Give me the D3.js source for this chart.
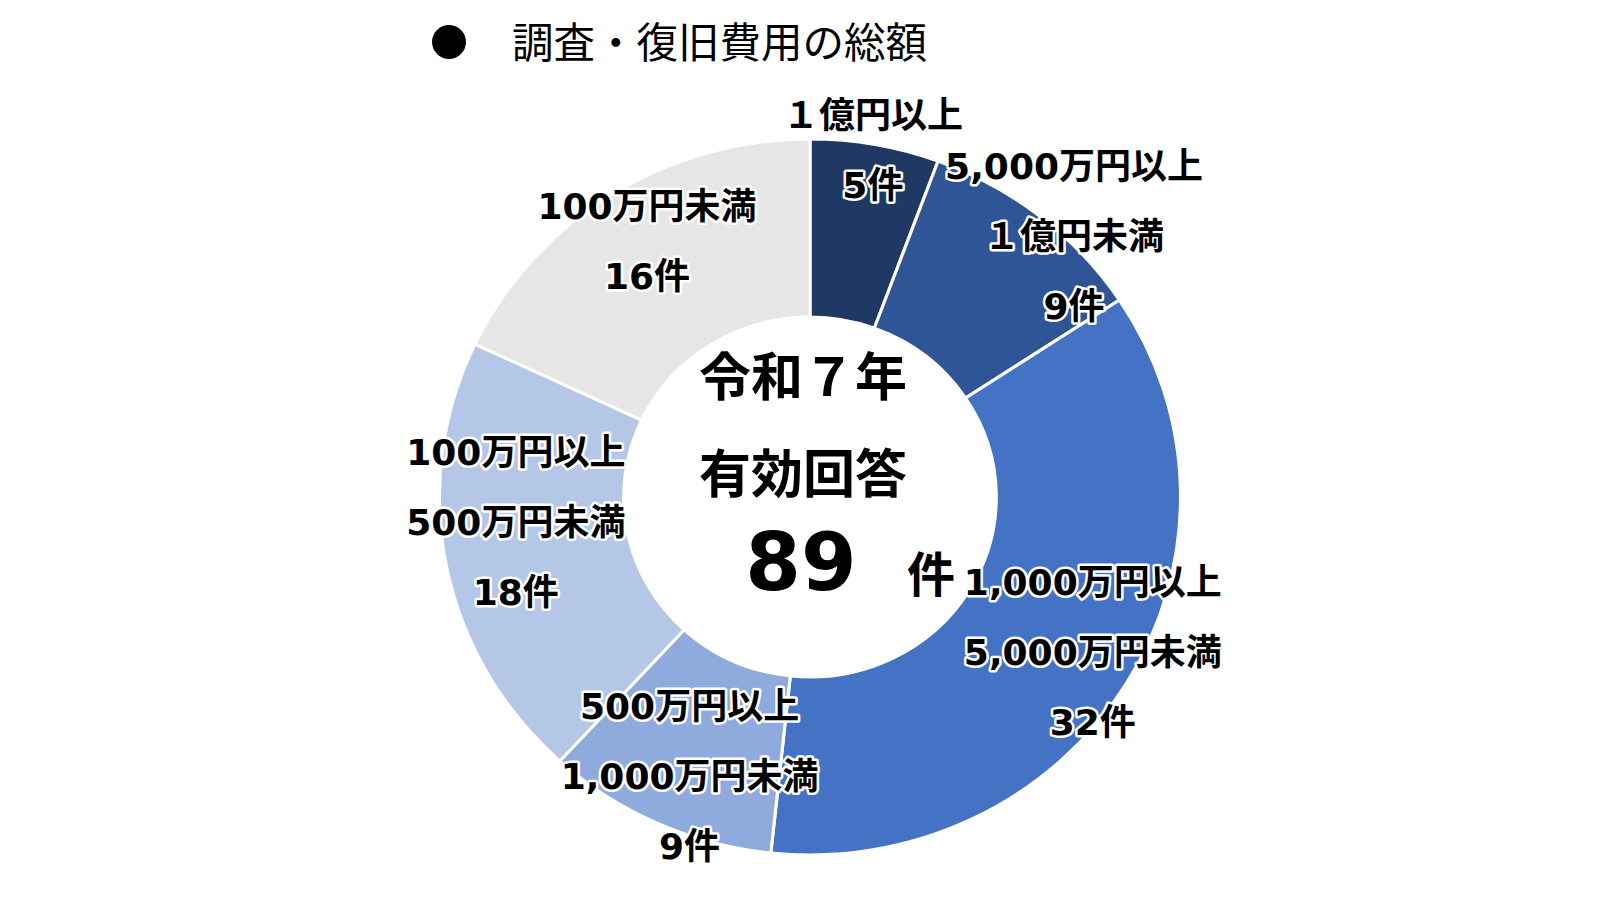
<!DOCTYPE html>
<html>
<head>
<meta charset="utf-8">
<script src="https://cdn.jsdelivr.net/npm/d3@7"></script>
<style>
  html, body { margin: 0; padding: 0; background: #fff; }
  svg { display: block; }
</style>
</head>
<body>
<svg id="chart" width="1600" height="900"></svg>
<script>
"use strict";

// data
var categories = ["１億円以上", "5,000万円以上 １億円未満", "1,000万円以上 5,000万円未満",
                  "500万円以上 1,000万円未満", "100万円以上 500万円未満", "100万円未満"],
    counts = [5, 9, 32, 9, 18, 16],
    colours = ["#203864", "#2F5597", "#4472C4", "#8FAADC", "#B4C7E7", "#E7E6E6"],
    title = "調査・復旧費用の総額",
    centreLines = ["令和７年", "有効回答"],
    unit = "件";

// layout
var cx = 810,
    cy = 497,
    outerR = 358,
    innerR = 180,
    stretchX = 1.035,
    lineGap = 70,
    labelFont = "'DejaVu Sans', 'Noto Sans CJK JP', sans-serif",
    cjkFont = "'Noto Sans CJK JP', sans-serif",
    // manual label moves, as done by hand in the original
    labelNudge = [[14, -82], [91, -50], [45, 16], [-6, 34], [-21, -26], [-14, -28]];

var svg = d3.select("#chart");

var total = d3.sum(counts);

var pie = d3.pie()
    .sort(null)
    .value(function(d) { return d; });

var arc = d3.arc()
    .innerRadius(innerR)
    .outerRadius(outerR);

var arcs = pie(counts);

// title
var head = svg.append("g").attr("class", "title");

head.append("circle")
    .attr("cx", 449)
    .attr("cy", 42)
    .attr("r", 17)
    .attr("fill", "#000");

head.append("text")
    .attr("x", 512)
    .attr("y", 40)
    .attr("dominant-baseline", "central")
    .attr("font-family", cjkFont)
    .attr("font-size", 41.5)
    .attr("font-weight", 400)
    .attr("fill", "#000")
    .text(title);

// donut
var ring = svg.append("g")
    .attr("transform", "translate(" + cx + "," + cy + ") scale(" + stretchX + ",1)");

ring.selectAll("path.slice")
    .data(arcs)
    .enter()
    .append("path")
    .attr("class", "slice")
    .attr("d", arc)
    .attr("fill", function(d, i) { return colours[i]; })
    .attr("stroke", "#fff")
    .attr("stroke-width", 3)
    .attr("stroke-linejoin", "round");

// labels
var labels = svg.append("g").attr("class", "labels");

var groups = labels.selectAll("g.label")
    .data(arcs)
    .enter()
    .append("g")
    .attr("class", "label")
    .attr("transform", function(d, i) {
        var c = arc.centroid(d),
            x = cx + c[0] * stretchX + labelNudge[i][0],
            y = cy + c[1] + labelNudge[i][1];
        return "translate(" + x + "," + y + ")";
    });

groups.selectAll("text")
    .data(function(d, i) {
        var lines = categories[i].split(" ").concat([counts[i] + unit]);
        return lines.map(function(t, j) {
            return { text: t, offset: (j - (lines.length - 1) / 2) * lineGap };
        });
    })
    .enter()
    .append("text")
    .attr("x", 0)
    .attr("y", function(d) { return d.offset; })
    .attr("text-anchor", "middle")
    .attr("dominant-baseline", "central")
    .attr("font-family", labelFont)
    .attr("font-size", 36)
    .attr("font-weight", 700)
    .attr("fill", "#000")
    .attr("stroke", "#fff")
    .attr("stroke-width", 5)
    .attr("stroke-linejoin", "round")
    .attr("paint-order", "stroke")
    .text(function(d) { return d.text; });

// centre text
var centre = svg.append("g").attr("class", "centre");

centre.selectAll("text.line")
    .data(centreLines)
    .enter()
    .append("text")
    .attr("class", "line")
    .attr("x", 803)
    .attr("y", function(d, i) { return 373 + i * 97; })
    .attr("text-anchor", "middle")
    .attr("dominant-baseline", "central")
    .attr("font-family", cjkFont)
    .attr("font-size", 52)
    .attr("font-weight", 700)
    .attr("fill", "#000")
    .text(function(d) { return d; });

centre.append("text")
    .attr("x", 801)
    .attr("y", 562)
    .attr("text-anchor", "middle")
    .attr("dominant-baseline", "central")
    .attr("font-family", labelFont)
    .attr("font-size", 80)
    .attr("font-weight", 700)
    .attr("fill", "#000")
    .text(total);

centre.append("text")
    .attr("x", 931)
    .attr("y", 571)
    .attr("text-anchor", "middle")
    .attr("dominant-baseline", "central")
    .attr("font-family", cjkFont)
    .attr("font-size", 48)
    .attr("font-weight", 700)
    .attr("fill", "#000")
    .text(unit);
</script>
</body>
</html>
